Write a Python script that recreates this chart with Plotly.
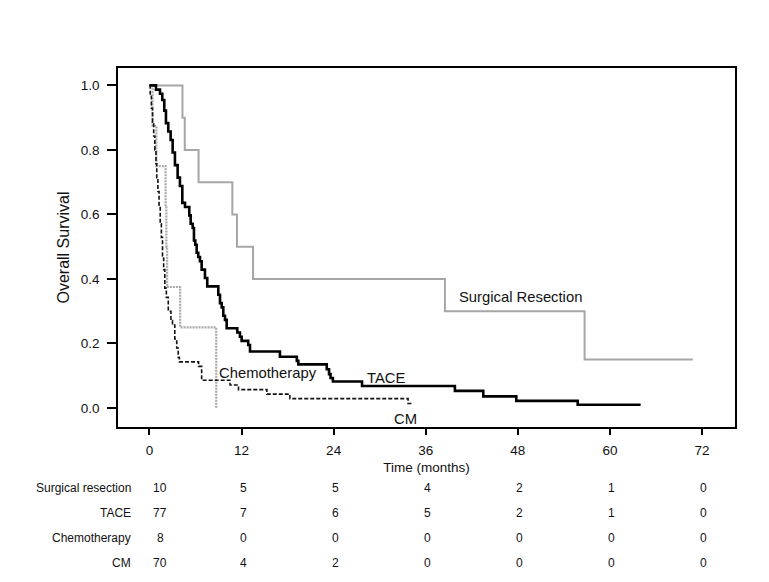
import plotly.graph_objects as go

# ---- data ----
surg_t = [0, 4.3, 4.6, 6.4, 10.8, 11.4, 13.5, 38.5, 56.7, 70.8]
surg_s = [1.0, 0.9, 0.8, 0.7, 0.6, 0.5, 0.4, 0.3, 0.15, 0.15]

tace_t = [0, 0.85, 1.37, 1.67, 1.93, 2.15, 2.45, 2.76, 3.02, 3.32, 3.67, 3.97, 4.28, 4.63,
          5.19, 5.37, 5.63, 5.80, 5.97, 6.15, 6.36, 6.58, 6.80, 7.23, 7.53, 8.97, 9.19, 9.41,
          9.62, 9.84, 10.06, 11.44, 11.79, 12.01, 12.87, 13.1, 17.0, 19.2, 19.4, 23.1, 23.4,
          23.6, 23.9, 27.7, 39.8, 43.5, 47.8, 55.8, 64.0]
tace_s = [1.0, 0.987, 0.974, 0.955, 0.922, 0.883, 0.857, 0.831, 0.792, 0.753, 0.714, 0.688,
          0.636, 0.623, 0.597, 0.571, 0.558, 0.519, 0.506, 0.481, 0.468, 0.455, 0.429, 0.403,
          0.377, 0.351, 0.325, 0.312, 0.286, 0.273, 0.247, 0.234, 0.221, 0.208, 0.195, 0.175,
          0.159, 0.146, 0.135, 0.12, 0.105, 0.093, 0.082, 0.068, 0.053, 0.036, 0.022, 0.010,
          0.010]

chemo_t = [0, 0.4, 0.9, 2.1, 2.2, 2.3, 4.0, 8.7]
chemo_s = [1.0, 0.875, 0.75, 0.625, 0.5, 0.375, 0.25, 0.0]

cm_t = [0, 0.1, 0.25, 0.4, 0.55, 0.7, 0.85, 0.95, 1.1, 1.25, 1.4, 1.55, 1.7, 1.85, 2.0, 2.2,
        2.45, 2.8, 3.0, 3.3, 3.55, 3.75, 3.9, 6.4, 6.8, 10.5, 11.6, 15.3, 18.3, 33.7, 34.4]
cm_s = [1.0, 0.971, 0.929, 0.886, 0.843, 0.800, 0.757, 0.714, 0.671, 0.629, 0.571, 0.529,
        0.471, 0.429, 0.371, 0.343, 0.300, 0.271, 0.257, 0.214, 0.186, 0.157, 0.143, 0.129,
        0.086, 0.071, 0.057, 0.043, 0.029, 0.014, 0.014]

x_ticks = [0, 12, 24, 36, 48, 60, 72]
y_ticks = [0.0, 0.2, 0.4, 0.6, 0.8, 1.0]
y_tick_labels = ["0.0", "0.2", "0.4", "0.6", "0.8", "1.0"]

risk_groups = ["Surgical resection", "TACE", "Chemotherapy", "CM"]
risk_surg = [10, 5, 5, 4, 2, 1, 0]
risk_tace = [77, 7, 6, 5, 2, 1, 0]
risk_chemo = [8, 0, 0, 0, 0, 0, 0]
risk_cm = [70, 4, 2, 0, 0, 0, 0]

FONT = "Liberation Sans, Arial, sans-serif"

fig = go.Figure()
fig.add_trace(go.Scatter(x=surg_t, y=surg_s, mode="lines", line_shape="hv",
                         line=dict(color="#a6a6a6", width=2), showlegend=False))
fig.add_trace(go.Scatter(x=chemo_t, y=chemo_s, mode="lines", line_shape="hv",
                         line=dict(color="#a9a9a9", width=2.2, dash="2px,1px"), showlegend=False))
fig.add_trace(go.Scatter(x=cm_t, y=cm_s, mode="lines", line_shape="hv",
                         line=dict(color="#111111", width=1.6, dash="4px,2px"), showlegend=False))
fig.add_trace(go.Scatter(x=tace_t, y=tace_s, mode="lines", line_shape="hv",
                         line=dict(color="#000000", width=2.6), showlegend=False))

ann = []
def lab(text, x, y):
    ann.append(dict(text=text, x=x, y=y, xref="x", yref="y", showarrow=False,
                    font=dict(family=FONT, size=14.8, color="#111111")))
lab("Surgical Resection", 48.4, 0.344)
lab("TACE", 30.8, 0.093)
lab("Chemotherapy", 15.4, 0.109)
lab("CM", 33.3, -0.034)

# risk table (page pixel positions converted to paper coords; page body has 8px margin)
plot_left, plot_right, plot_top, plot_bot = 118, 735, 68, 427
def ypaper(py):
    return (plot_bot - py) / (plot_bot - plot_top)
def xpaper(px):
    return (px - plot_left) / (plot_right - plot_left)
row_py = [488, 513, 538, 563]
rows = [risk_surg, risk_tace, risk_chemo, risk_cm]
col_x = [1.4] + [t + 0.2 for t in x_ticks[1:]]
for name, vals, py in zip(risk_groups, rows, row_py):
    ann.append(dict(text=name, x=xpaper(133), y=ypaper(py), xref="paper", yref="paper",
                    xanchor="right", yanchor="middle", showarrow=False,
                    font=dict(family=FONT, size=12, color="#111111")))
    for cx, v in zip(col_x, vals):
        ann.append(dict(text=str(v), x=cx, y=ypaper(py), xref="x", yref="paper",
                        xanchor="center", yanchor="middle", showarrow=False,
                        font=dict(family=FONT, size=12, color="#111111")))

fig.update_layout(
    width=761, height=574,
    margin=dict(l=110, r=34, t=60, b=155),
    plot_bgcolor="white", paper_bgcolor="white",
    font=dict(family=FONT, size=13, color="#111111"),
    annotations=ann,
    xaxis=dict(range=[-4.1, 76.3], tickvals=x_ticks, ticks="outside", ticklen=6, tickwidth=1.5,
               tickcolor="black", showgrid=False, zeroline=False, showline=True, mirror=True,
               linecolor="black", linewidth=1.5, ticklabelstandoff=4,
               title=dict(text="Time (months)", font=dict(size=13.5), standoff=6),
               tickfont=dict(size=13.5)),
    yaxis=dict(range=[-0.059, 1.054], tickvals=y_ticks, ticktext=y_tick_labels, ticks="outside",
               ticklen=9, tickwidth=1.5, tickcolor="black", showgrid=False, zeroline=False,
               showline=True, mirror=True, linecolor="black", linewidth=1.5, ticklabelstandoff=5,
               title=dict(text="Overall Survival", font=dict(size=16), standoff=7),
               tickfont=dict(size=13.5)),
)

fig.write_html("out.html")
